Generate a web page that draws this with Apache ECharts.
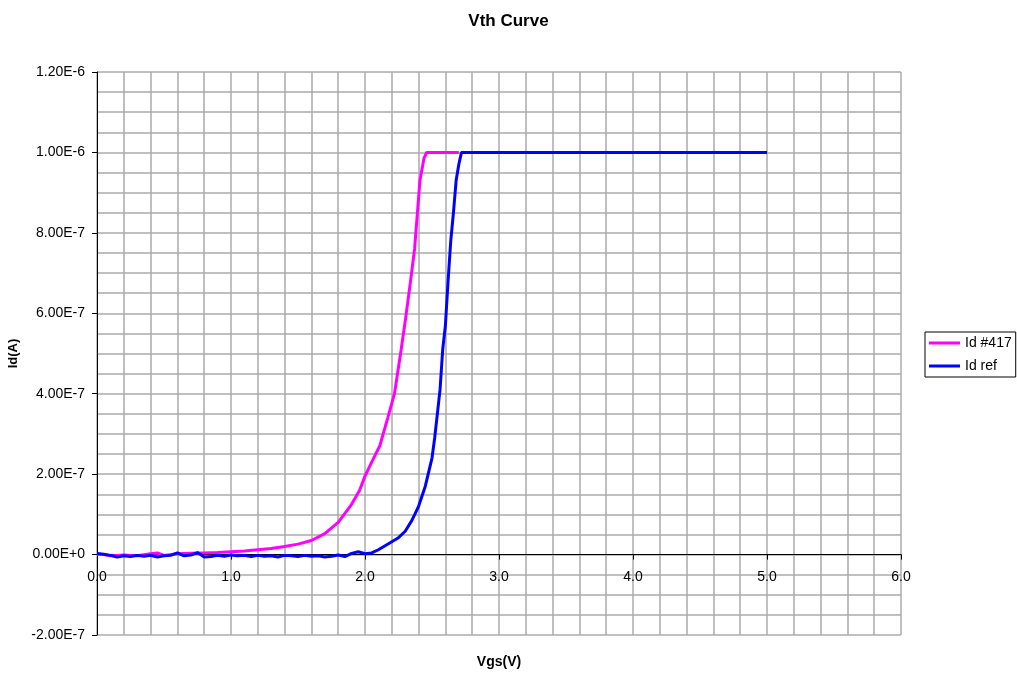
<!DOCTYPE html>
<html>
<head>
<meta charset="utf-8">
<script src="https://cdn.jsdelivr.net/npm/echarts@6/dist/echarts.min.js"></script>
<style>
html,body{margin:0;padding:0;background:#fff;}
#chart{width:1017px;height:673px;}
</style>
</head>
<body>
<div id="chart"></div>
<script>
// Id #417 (magenta)
const v417 = [0.00,0.05,0.10,0.15,0.20,0.30,0.40,0.45,0.50,0.60,0.70,0.80,0.90,1.00,1.10,1.20,1.30,1.40,1.50,1.60,1.70,1.80,1.90,1.96,2.00,2.05,2.11,2.17,2.22,2.27,2.30,2.34,2.37,2.41,2.44,2.46,2.70];
const i417 = [0.1e-8,0.0e-8,-0.3e-8,-0.2e-8,-0.1e-8,-0.3e-8,0.2e-8,0.4e-8,-0.2e-8,0.2e-8,0.3e-8,0.4e-8,0.5e-8,0.7e-8,0.9e-8,1.2e-8,1.5e-8,2.0e-8,2.6e-8,3.5e-8,5.2e-8,8.0e-8,12.5e-8,16e-8,19.5e-8,23e-8,27e-8,34e-8,40e-8,51e-8,58e-8,68e-8,76e-8,93e-8,98.5e-8,100e-8,100e-8];
// Id ref (blue)
const vRef = [0.00,0.05,0.10,0.15,0.20,0.25,0.30,0.35,0.40,0.45,0.50,0.55,0.60,0.65,0.70,0.75,0.80,0.85,0.90,0.95,1.00,1.05,1.10,1.15,1.20,1.25,1.30,1.35,1.40,1.45,1.50,1.55,1.60,1.65,1.70,1.75,1.80,1.85,1.90,1.95,2.00,2.05,2.10,2.15,2.20,2.25,2.30,2.35,2.40,2.45,2.50,2.52,2.54,2.56,2.58,2.60,2.62,2.64,2.66,2.68,2.70,2.72,5.00];
const iRef = [0.3e-8,0.1e-8,-0.2e-8,-0.6e-8,-0.3e-8,-0.5e-8,-0.2e-8,-0.4e-8,-0.2e-8,-0.6e-8,-0.3e-8,-0.2e-8,0.4e-8,-0.3e-8,-0.1e-8,0.5e-8,-0.6e-8,-0.5e-8,-0.2e-8,-0.4e-8,-0.1e-8,-0.3e-8,-0.2e-8,-0.5e-8,-0.2e-8,-0.4e-8,-0.3e-8,-0.6e-8,-0.2e-8,-0.3e-8,-0.5e-8,-0.2e-8,-0.4e-8,-0.3e-8,-0.6e-8,-0.4e-8,-0.1e-8,-0.5e-8,0.3e-8,0.7e-8,0.2e-8,0.4e-8,1.2e-8,2.2e-8,3.2e-8,4.2e-8,5.8e-8,8.5e-8,12e-8,17e-8,24e-8,29e-8,35e-8,41e-8,51e-8,57e-8,68e-8,78e-8,85e-8,93e-8,97e-8,100e-8,100e-8];
const seriesNames = ['Id #417','Id ref'];
const FONT = '"Liberation Sans", Arial, sans-serif';

function sci(v){
  if (Math.abs(v) < 1e-15) return '0.00E+0';
  let e = Math.floor(Math.log10(Math.abs(v)) + 1e-9);
  let m = v / Math.pow(10, e);
  m = Math.round(m * 100) / 100;
  if (Math.abs(m) >= 10) { m /= 10; e += 1; }
  return m.toFixed(2) + 'E' + (e >= 0 ? '+' : '') + e;
}
const pairs = (xs, ys) => xs.map((x, k) => [x, ys[k]]);

const chart = echarts.init(document.getElementById('chart'), null, {renderer: 'canvas'});
const gridLine = {show: true, lineStyle: {color: '#ababab', width: 1.5}};
chart.setOption({
  animation: false,
  backgroundColor: '#fff',
  title: {
    text: 'Vth Curve', left: 'center', top: 8,
    textStyle: {fontFamily: FONT, fontSize: 17, fontWeight: 'bold', color: '#000'}
  },
  legend: {
    orient: 'vertical', left: 925, top: 332,
    data: seriesNames,
    icon: 'rect', itemWidth: 31, itemHeight: 3, itemGap: 9,
    padding: [4, 4, 4, 4],
    borderColor: '#000', borderWidth: 1,
    textStyle: {fontFamily: FONT, fontSize: 14, color: '#000'}
  },
  grid: {left: 97, right: 116, top: 72, bottom: 38, containLabel: false, outerBoundsMode: 'none'},
  xAxis: {
    type: 'value', min: 0, max: 6, interval: 1,
    name: 'Vgs(V)', nameLocation: 'middle', nameGap: 20,
    nameTextStyle: {fontFamily: FONT, fontSize: 14, fontWeight: 'bold', color: '#000'},
    axisLine: {onZero: true, lineStyle: {color: '#000', width: 1}},
    axisTick: {show: true, length: 5, lineStyle: {color: '#000'}},
    axisLabel: {fontFamily: FONT, fontSize: 14, color: '#000', margin: -65, formatter: v => v.toFixed(1)},
    splitLine: gridLine,
    minorTick: {show: false, splitNumber: 5},
    minorSplitLine: gridLine
  },
  yAxis: {
    type: 'value', min: -2e-7, max: 1.2e-6, interval: 2e-7,
    name: 'Id(A)', nameLocation: 'middle', nameGap: 66, nameRotate: 90,
    nameTextStyle: {fontFamily: FONT, fontSize: 13, fontWeight: 'bold', color: '#000'},
    axisLine: {show: true, onZero: false, lineStyle: {color: '#000', width: 1}},
    axisTick: {show: true, length: 5, lineStyle: {color: '#000'}},
    axisLabel: {fontFamily: FONT, fontSize: 14, color: '#000', margin: 12, formatter: sci},
    splitLine: gridLine,
    minorTick: {show: false, splitNumber: 4},
    minorSplitLine: gridLine
  },
  series: [
    {name: seriesNames[0], type: 'line', data: pairs(v417, i417), showSymbol: false, symbol: 'none',
     lineStyle: {color: '#ff00ff', width: 3}, itemStyle: {color: '#ff00ff'}},
    {name: seriesNames[1], type: 'line', data: pairs(vRef, iRef), showSymbol: false, symbol: 'none',
     lineStyle: {color: '#0000ff', width: 3}, itemStyle: {color: '#0000ff'}}
  ]
});
</script>
</body>
</html>
